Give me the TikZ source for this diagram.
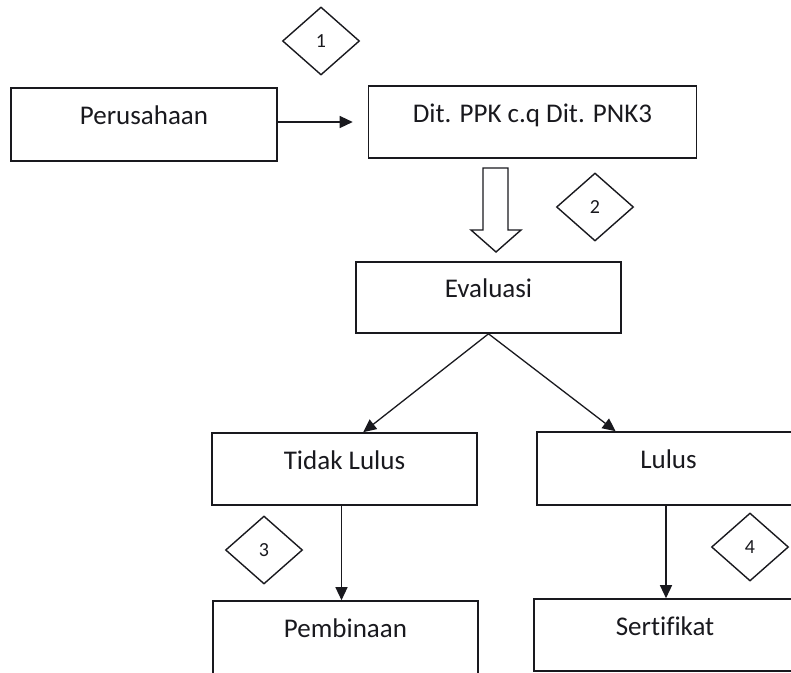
\documentclass[tikz,border=0pt]{standalone}
\usepackage{fontspec}
\setmainfont{Carlito}[Ligatures=CommonOff]
\usetikzlibrary{arrows.meta,shapes.geometric,calc}
\definecolor{ink}{RGB}{25,25,30}
\begin{document}
\begin{tikzpicture}[x=1pt,y=-1pt,
  box/.style={draw=ink,line width=1.6pt,rectangle,inner sep=0pt,
    text height=0pt,text depth=0pt,font=\fontsize{27}{32}\selectfont,text=ink},
  tag/.style={draw=ink,line width=1.4pt,diamond,minimum width=77pt,
    minimum height=68pt,inner sep=0pt,font=\fontsize{20}{24}\selectfont,text=ink},
  conn/.style={draw=ink,line width=1.3pt,-{Triangle[length=13pt,width=12pt]}},
  hollow/.style={draw=ink,line width=1.4pt,fill=white,line join=miter}]
\useasboundingbox (0,0) rectangle (791,672);
\begin{scope}
\clip (0,0) rectangle (791,672);
% boxes
\node[box,minimum width=266pt,minimum height=73pt] (per) at (144,124.5) {Perusahaan};
\node[box,minimum width=328pt,minimum height=72pt] (dit) at (532.5,122) {Dit. PPK c.q Dit. PNK3};
\node[box,minimum width=265pt,minimum height=71pt] (ev) at (488.5,297.5) {Evaluasi};
\node[box,minimum width=265pt,minimum height=72pt] (tl) at (344.5,469) {Tidak Lulus};
\node[box,minimum width=263pt,minimum height=73pt] (lu) at (668.5,468.5) {Lulus};
\node[box,minimum width=265pt,minimum height=73pt] (pb) at (345.5,637.5) {Pembinaan};
\node[box,minimum width=262pt,minimum height=72pt] (sf) at (665,635) {Sertifikat};
% diamonds
\node[tag] (d1) at (321,41) {1};
\node[tag] (d2) at (595,207) {2};
\node[tag] (d3) at (264,550) {3};
\node[tag] (d4) at (750,547) {4};
% connectors
\draw[conn,shorten >=15pt] (per.east |- dit.west) -- (dit.west);
\draw[conn] (ev.south) -- ($(tl.north west)!0.57!(tl.north east)$);
\draw[conn] (ev.south) -- ($(lu.north west)!0.30!(lu.north east)$);
\coordinate (tlb) at ($(tl.south)+(-3,0)$);
\coordinate (lub) at ($(lu.south)+(-2.5,0)$);
\draw[conn] (tlb) -- (tlb |- pb.north);
\draw[conn] (lub) -- (lub |- sf.north);
% hollow block arrow
\draw[hollow] (483,168) -- (508,168) -- (508,230) -- (521,230) -- (496,252)
  -- (471,230) -- (483,230) -- cycle;
\end{scope}
\end{tikzpicture}
\end{document}
